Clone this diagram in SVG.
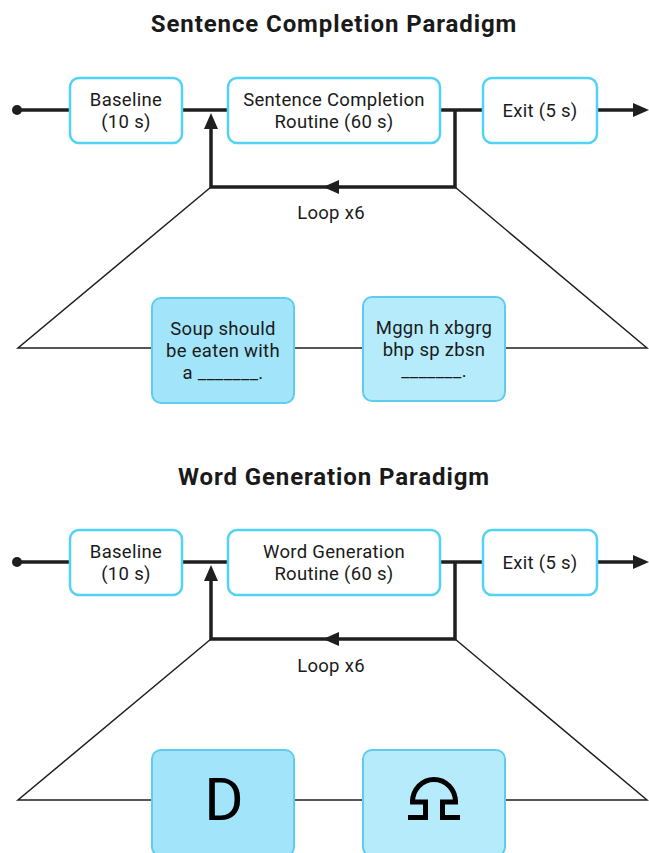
<svg xmlns="http://www.w3.org/2000/svg" width="649" height="853" viewBox="0 0 649 853">
<defs>
<style>
.t{font-family:Roboto,"Liberation Sans",sans-serif;fill:#1a1a1a;text-anchor:middle}
.title{font-size:24px;font-weight:bold;letter-spacing:0.9px}
.lbl{font-size:18.5px;letter-spacing:0.3px}
.sm{font-size:18.5px;letter-spacing:0.3px}
.box{fill:#ffffff;stroke:#52d2f4;stroke-width:2.5}
.card1{fill:#a2e5fa;stroke:#5ccdee;stroke-width:2}
.card2{fill:#b6ebfc;stroke:#5ccdee;stroke-width:2}
.thick{fill:none;stroke:#1f1f1f;stroke-width:3.5}
.thin{fill:none;stroke:#1f1f1f;stroke-width:1.5}
</style>
<marker id="ah" markerUnits="userSpaceOnUse" viewBox="0 0 16 14" refX="2" refY="7" markerWidth="16" markerHeight="14" orient="auto">
<path d="M0,0 L16,7 L0,14 z" fill="#1f1f1f"/>
</marker>
</defs>
<rect width="649" height="853" fill="#ffffff"/>

<g id="connectors">
<path class="thin" d="M211 187 L18 348 H647 L455 187"/>
<circle cx="17" cy="110" r="5" fill="#1f1f1f"/>
<path class="thick" d="M17 110 H70"/>
<path class="thick" d="M182 110 H228"/>
<path class="thick" d="M440 110 H483"/>
<path class="thick" d="M597 110 H635" marker-end="url(#ah)"/>
<path class="thick" d="M455 110 V187 H337" marker-end="url(#ah)"/>
<path class="thick" d="M337 187 H211 V127" marker-end="url(#ah)"/>
<path class="thin" d="M211 639 L18 800 H647 L455 639"/>
<circle cx="17" cy="562" r="5" fill="#1f1f1f"/>
<path class="thick" d="M17 562 H70"/>
<path class="thick" d="M182 562 H228"/>
<path class="thick" d="M440 562 H483"/>
<path class="thick" d="M597 562 H635" marker-end="url(#ah)"/>
<path class="thick" d="M455 562 V639 H337" marker-end="url(#ah)"/>
<path class="thick" d="M337 639 H211 V579" marker-end="url(#ah)"/>
</g>

<text class="t title" x="334" y="32">Sentence Completion Paradigm</text>
<text class="t sm" x="331" y="219">Loop x6</text>
<text class="t title" x="334" y="485">Word Generation Paradigm</text>
<text class="t sm" x="331" y="672">Loop x6</text>

<g id="sc-baseline">
<rect class="box" x="70" y="78" width="112" height="65" rx="9"/>
<text class="t lbl" x="126" y="106">Baseline</text>
<text class="t lbl" x="126" y="128">(10 s)</text>
</g>
<g id="sc-routine">
<rect class="box" x="228" y="78" width="212" height="65" rx="9"/>
<text class="t lbl" x="334" y="106">Sentence Completion</text>
<text class="t lbl" x="334" y="128">Routine (60 s)</text>
</g>
<g id="sc-exit">
<rect class="box" x="483" y="78" width="114" height="65" rx="9"/>
<text class="t lbl" x="540" y="117">Exit (5 s)</text>
</g>
<g id="sc-soup">
<rect class="card1" x="152" y="298" width="142" height="105" rx="9"/>
<text class="t sm" x="223" y="335">Soup should</text>
<text class="t sm" x="223" y="357">be eaten with</text>
<text class="t sm" x="223" y="379">a _______.</text>
</g>
<g id="sc-mggn">
<rect class="card2" x="363" y="297" width="142" height="104" rx="9"/>
<text class="t sm" x="434" y="334">Mggn h xbgrg</text>
<text class="t sm" x="434" y="356">bhp sp zbsn</text>
<text class="t sm" x="434" y="377">_______.</text>
</g>

<g id="wg-baseline">
<rect class="box" x="70" y="530" width="112" height="65" rx="9"/>
<text class="t lbl" x="126" y="558">Baseline</text>
<text class="t lbl" x="126" y="580">(10 s)</text>
</g>
<g id="wg-routine">
<rect class="box" x="228" y="530" width="212" height="65" rx="9"/>
<text class="t lbl" x="334" y="558">Word Generation</text>
<text class="t lbl" x="334" y="580">Routine (60 s)</text>
</g>
<g id="wg-exit">
<rect class="box" x="483" y="530" width="114" height="65" rx="9"/>
<text class="t lbl" x="540" y="569">Exit (5 s)</text>
</g>
<g id="wg-d">
<rect class="card1" x="152" y="750" width="142" height="106" rx="9"/>
<text class="t" x="224" y="820" style="font-size:60px;fill:#000">D</text>
</g>
<g id="wg-glyph">
<rect class="card2" x="363" y="750" width="142" height="106" rx="9"/>
<path d="M412.5 802 A21.5 22.5 0 0 1 455.5 802 M410 802 H425.5 V817.5 H408 M458 802 H442.5 V817.5 H460" fill="none" stroke="#000" stroke-width="5"/>
</g>
</svg>
